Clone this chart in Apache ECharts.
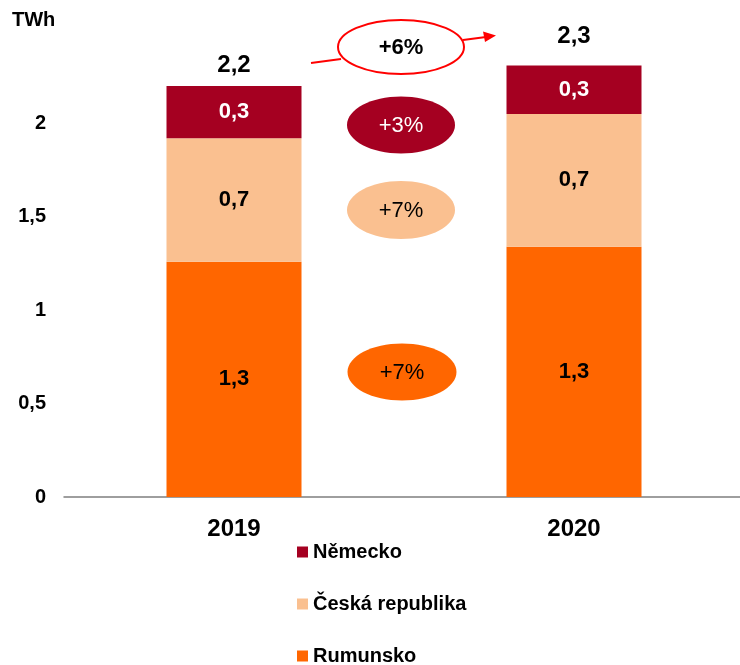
<!DOCTYPE html>
<html>
<head>
<meta charset="utf-8">
<script src="https://cdn.jsdelivr.net/npm/echarts@6/dist/echarts.min.js"></script>
<style>
  html, body { margin: 0; padding: 0; background: #fff; }
  #main { width: 740px; height: 665px; }
</style>
</head>
<body>
<div id="main"></div>
<script>
var years = ['2019', '2020'];
var rumunsko = [1.26, 1.34];
var ceska = [0.66, 0.71];
var nemecko = [0.28, 0.26];
var totals = [2.2, 2.3];
var yTicks = [0, 0.5, 1, 1.5, 2];

var FONT = '"Liberation Sans", Arial, sans-serif';

function fmt(v) {
    return v.toFixed(1).replace('.', ',');
}

var valueLabel = function (color) {
    return {
        show: true,
        position: 'inside',
        color: color,
        fontFamily: FONT,
        fontWeight: 'bold',
        fontSize: 22,
        formatter: function (p) { return fmt(p.value); }
    };
};

// ellipses with growth rates between the bars
function badge(cx, cy, rx, ry, fill, text, textColor) {
    return [
        {
            type: 'ellipse',
            shape: { cx: cx, cy: cy, rx: rx, ry: ry },
            style: { fill: fill }
        },
        {
            type: 'text',
            x: cx, y: cy + 1,
            style: {
                text: text, fill: textColor, font: '22px ' + FONT,
                textAlign: 'center', textVerticalAlign: 'middle'
            }
        }
    ];
}

var graphics = [
    {
        type: 'text', x: 12, y: 20,
        style: { text: 'TWh', fill: '#000', font: 'bold 20px ' + FONT, textVerticalAlign: 'middle' }
    },
    {
        type: 'ellipse',
        shape: { cx: 401, cy: 47, rx: 63, ry: 27 },
        style: { fill: '#fff', stroke: '#ff0000', lineWidth: 2 }
    },
    {
        type: 'line',
        shape: { x1: 311, y1: 63, x2: 341, y2: 59 },
        style: { stroke: '#ff0000', lineWidth: 2 }
    },
    {
        type: 'line',
        shape: { x1: 463, y1: 40, x2: 486, y2: 37 },
        style: { stroke: '#ff0000', lineWidth: 2 }
    },
    {
        type: 'polygon',
        shape: { points: [[496, 35.5], [483, 31.5], [485, 42]] },
        style: { fill: '#ff0000' }
    },
    {
        type: 'text', x: 401, y: 48,
        style: { text: '+6%', fill: '#000', font: 'bold 22px ' + FONT, textAlign: 'center', textVerticalAlign: 'middle' }
    }
]
.concat(badge(401, 125, 54, 28.5, '#a50021', '+3%', '#fff'))
.concat(badge(401, 210, 54, 29, '#fac090', '+7%', '#000'))
.concat(badge(402, 372, 54.5, 28.5, '#ff6600', '+7%', '#000'));

var option = {
    animation: false,
    backgroundColor: '#fff',
    grid: { left: 64, width: 680, top: 30, bottom: 168, outerBoundsMode: 'none' },
    legend: {
        orient: 'vertical',
        left: 292,
        top: 537,
        height: 140,
        icon: 'rect',
        itemWidth: 11,
        itemHeight: 11,
        itemGap: 32,
        data: ['Německo', 'Česká republika', 'Rumunsko'],
        textStyle: { fontFamily: FONT, fontWeight: 'bold', fontSize: 20, color: '#000' }
    },
    xAxis: {
        type: 'category',
        data: years,
        axisLine: { lineStyle: { color: '#7f7f7f', width: 1.5 } },
        axisTick: { show: false },
        axisLabel: { margin: 20, color: '#000', fontFamily: FONT, fontWeight: 'bold', fontSize: 24 }
    },
    yAxis: {
        type: 'value',
        min: 0,
        max: 2.5,
        interval: 0.5,
        splitLine: { show: false },
        axisLine: { show: false },
        axisTick: { show: false },
        axisLabel: {
            margin: 18,
            color: '#000',
            fontFamily: FONT,
            fontWeight: 'bold',
            fontSize: 20,
            formatter: function (v) {
                return yTicks.indexOf(v) >= 0 ? String(v).replace('.', ',') : '';
            }
        }
    },
    series: [
        {
            name: 'Rumunsko', type: 'bar', stack: 'total', barWidth: 135,
            itemStyle: { color: '#ff6600' },
            label: valueLabel('#000'),
            data: rumunsko
        },
        {
            name: 'Česká republika', type: 'bar', stack: 'total', barWidth: 135,
            itemStyle: { color: '#fac090' },
            label: valueLabel('#000'),
            data: ceska
        },
        {
            name: 'Německo', type: 'bar', stack: 'total', barWidth: 135,
            itemStyle: { color: '#a50021' },
            label: valueLabel('#fff'),
            data: nemecko
        },
        {
            // zero-height cap carrying the total above each column
            name: 'Celkem', type: 'bar', stack: 'total', barWidth: 135,
            silent: true,
            itemStyle: { color: 'rgba(0,0,0,0)' },
            label: {
                show: true, position: 'top',
                color: '#000', fontFamily: FONT, fontWeight: 'bold', fontSize: 24,
                formatter: function (p) { return fmt(totals[p.dataIndex]); }
            },
            data: totals.map(function (v, i) {
                return { value: 0, label: { distance: i === 0 ? 9 : 17 } };
            })
        }
    ],
    graphic: graphics
};

var myChart = echarts.init(document.getElementById('main'));
myChart.setOption(option);
</script>
</body>
</html>
